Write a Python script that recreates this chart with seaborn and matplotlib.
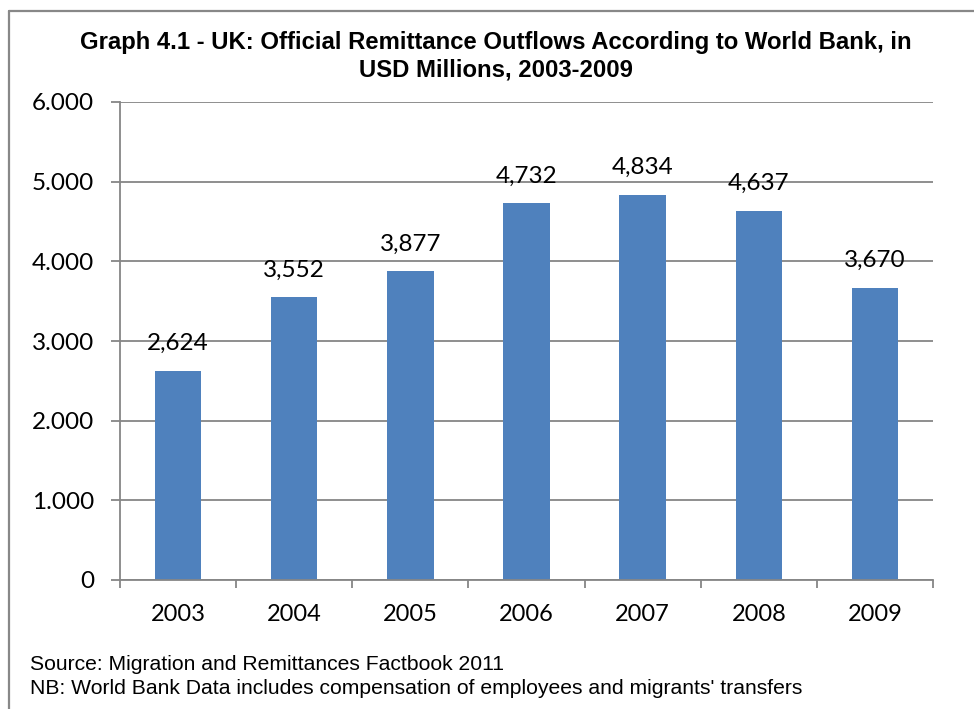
import matplotlib
matplotlib.use("Agg")
import matplotlib.pyplot as plt
import seaborn as sns
import pandas as pd
from matplotlib.ticker import FuncFormatter, FixedLocator
from matplotlib.lines import Line2D

years = ["2003", "2004", "2005", "2006", "2007", "2008", "2009"]
outflows = [2624, 3552, 3877, 4732, 4834, 4637, 3670]
y_ticks = [0, 1000, 2000, 3000, 4000, 5000, 6000]
title_lines = ["Graph 4.1 - UK: Official Remittance Outflows According to World Bank, in",
               "USD Millions, 2003-2009"]
notes = ["Source: Migration and Remittances Factbook 2011",
         "NB: World Bank Data includes compensation of employees and migrants' transfers"]

sns.set_theme(style="white")
plt.rcParams['font.family'] = ['Lato', 'DejaVu Sans']

W, H = 974, 709
fig = plt.figure(figsize=(W / 100, H / 100), dpi=100)
L, R, T, B = 120, 933, 102, 580
ax = fig.add_axes([L / W, 1 - B / H, (R - L) / W, (B - T) / H])

df = pd.DataFrame({"year": years, "value": outflows})
sns.barplot(data=df, x="year", y="value", ax=ax, color="#4F81BD",
            saturation=1, width=0.4, edgecolor="none")

ax.set_xlim(-0.5, len(years) - 0.5)
ax.set_ylim(0, 6000)
ax.set_xlabel("")
ax.set_ylabel("")

grid_c = "#868686"
ax.yaxis.set_major_locator(FixedLocator(y_ticks))
ax.yaxis.set_major_formatter(FuncFormatter(lambda v, p: "0" if v == 0 else f"{int(v):,}".replace(",", ".")))
ax.grid(axis="y", color=grid_c, linewidth=1.3)
ax.set_axisbelow(True)
for s in ["top", "right"]:
    ax.spines[s].set_visible(False)
for s in ["left", "bottom"]:
    ax.spines[s].set_color(grid_c)
    ax.spines[s].set_linewidth(1.3)

ax.tick_params(axis="y", which="major", length=6.5, width=1.3, color=grid_c,
               pad=12, labelsize=17.5, labelcolor="black", left=True)
ax.tick_params(axis="x", which="major", length=0, pad=17, labelsize=17, labelcolor="black")
ax.set_xticks([i - 0.5 for i in range(len(years) + 1)], minor=True)
ax.tick_params(axis="x", which="minor", length=6, width=1.3, color=grid_c, bottom=True)

for c in ax.containers:
    ax.bar_label(c, labels=[f"{v:,}" for v in outflows], padding=12, fontsize=17.5, color="black")

fig.text(496 / W, 1 - 43 / H, title_lines[0], ha="center", va="center",
         fontsize=17.2, fontweight="bold", family=["Liberation Sans"], color="black")
fig.text(496 / W, 1 - 70 / H, title_lines[1], ha="center", va="center",
         fontsize=17.2, fontweight="bold", family=["Liberation Sans"], color="black")

fig.text(30 / W, 1 - 664 / H, notes[0], ha="left", va="center", fontsize=15.2, family=["Liberation Sans"], color="black")
fig.text(30 / W, 1 - 688 / H, notes[1], ha="left", va="center", fontsize=15.2, family=["Liberation Sans"], color="black")

# chart frame
fig.add_artist(Line2D([9 / W, 9 / W], [0, 1 - 11 / H], transform=fig.transFigure, color="#888888", linewidth=1.6))
fig.add_artist(Line2D([9 / W, 1], [1 - 11 / H, 1 - 11 / H], transform=fig.transFigure, color="#888888", linewidth=1.6))

fig.savefig("out.png", dpi=100)
